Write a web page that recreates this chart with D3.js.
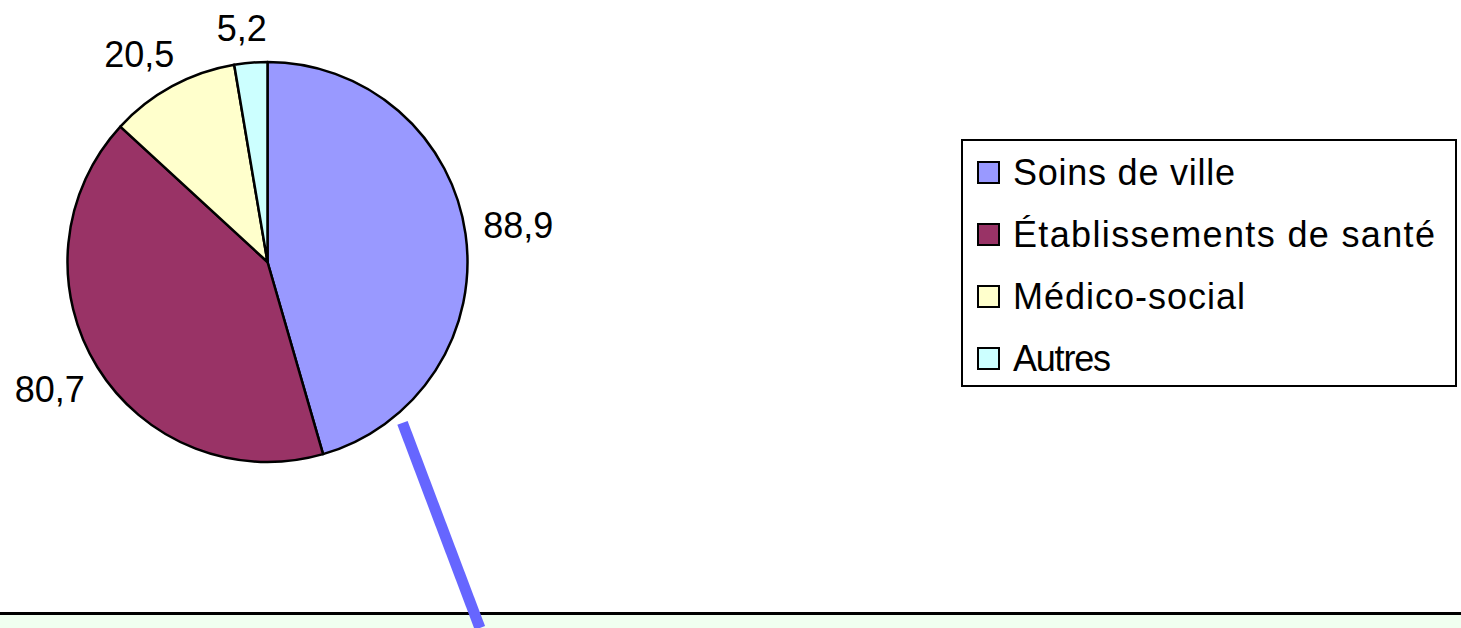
<!DOCTYPE html>
<html>
<head>
<meta charset="utf-8">
<script src="https://cdn.jsdelivr.net/npm/d3@7"></script>
<style>
  body { margin: 0; background: #fff; }
  svg { display: block; font-family: Arial, "Liberation Sans", sans-serif; }
</style>
</head>
<body>
<svg id="chart"></svg>
<script>
// data
const categories = ["Soins de ville", "Établissements de santé", "Médico-social", "Autres"];
const values = [88.9, 80.7, 20.5, 5.2];
const valueLabels = ["88,9", "80,7", "20,5", "5,2"];
const colors = ["#9999FF", "#993366", "#FFFFCC", "#CCFFFF"];

const width = 1461, height = 628;
const svg = d3.select("#chart").attr("width", width).attr("height", height);

const cx = 267.5, cy = 262, r = 200;

// bottom band
svg.append("rect")
    .attr("x", 0).attr("y", 613.5)
    .attr("width", width).attr("height", height - 613.5)
    .attr("fill", "#F0FFF0");
svg.append("line")
    .attr("x1", 0).attr("x2", width)
    .attr("y1", 613.5).attr("y2", 613.5)
    .attr("stroke", "#000").attr("stroke-width", 3);

const pie = d3.pie().sort(null).value(d => d);
const arcs = pie(values);
const arc = d3.arc().innerRadius(0).outerRadius(r);

const g = svg.append("g").attr("transform", `translate(${cx},${cy})`);

g.selectAll("path.slice")
    .data(arcs)
    .enter()
    .append("path")
    .attr("class", "slice")
    .attr("d", arc)
    .attr("fill", (d, i) => colors[i])
    .attr("stroke", "#000")
    .attr("stroke-width", 2.5)
    .attr("stroke-linejoin", "round");

// value labels outside the pie
const fontSize = 36;
const labelR = r + 18;
g.selectAll("text.val")
    .data(arcs)
    .enter()
    .append("text")
    .attr("class", "val")
    .attr("font-size", fontSize)
    .attr("text-anchor", "middle")
    .each(function (d, i) {
        const a = (d.startAngle + d.endAngle) / 2;
        const s = Math.sin(a), c = Math.cos(a);
        const halfW = valueLabels[i].length * 8.8;
        const halfH = 17;
        const x = labelR * s + Math.sign(s) * halfW * Math.sqrt(Math.abs(s));
        const y = -labelR * c - Math.sign(c) * halfH * Math.sqrt(Math.abs(c));
        d3.select(this).attr("x", x).attr("y", y + 13).text(valueLabels[i]);
    });

// callout line from the first slice down through the band
const calloutAngle = 140 * Math.PI / 180;
const startR = r + 10;
const x1 = cx + startR * Math.sin(calloutAngle);
const y1 = cy - startR * Math.cos(calloutAngle);
const slope = 77 / 204;
svg.append("line")
    .attr("x1", x1).attr("y1", y1)
    .attr("x2", x1 + slope * (height - y1)).attr("y2", height)
    .attr("stroke", "#6666FF")
    .attr("stroke-width", 11);

// legend
const legend = svg.append("g");
legend.append("rect")
    .attr("x", 962).attr("y", 140)
    .attr("width", 494).attr("height", 246)
    .attr("fill", "#fff")
    .attr("stroke", "#000")
    .attr("stroke-width", 2);

const legendWidths = [222, 422, 232, 98];
const row = legend.selectAll("g.item")
    .data(categories)
    .enter()
    .append("g")
    .attr("class", "item")
    .attr("transform", (d, i) => `translate(0,${185 + i * 62})`);

row.append("rect")
    .attr("x", 978).attr("y", -23)
    .attr("width", 21).attr("height", 21)
    .attr("fill", (d, i) => colors[i])
    .attr("stroke", "#000")
    .attr("stroke-width", 2);

row.append("text")
    .attr("x", 1013).attr("y", 0)
    .attr("font-size", 36)
    .attr("textLength", (d, i) => legendWidths[i])
    .attr("lengthAdjust", "spacing")
    .text(d => d);
</script>
</body>
</html>
